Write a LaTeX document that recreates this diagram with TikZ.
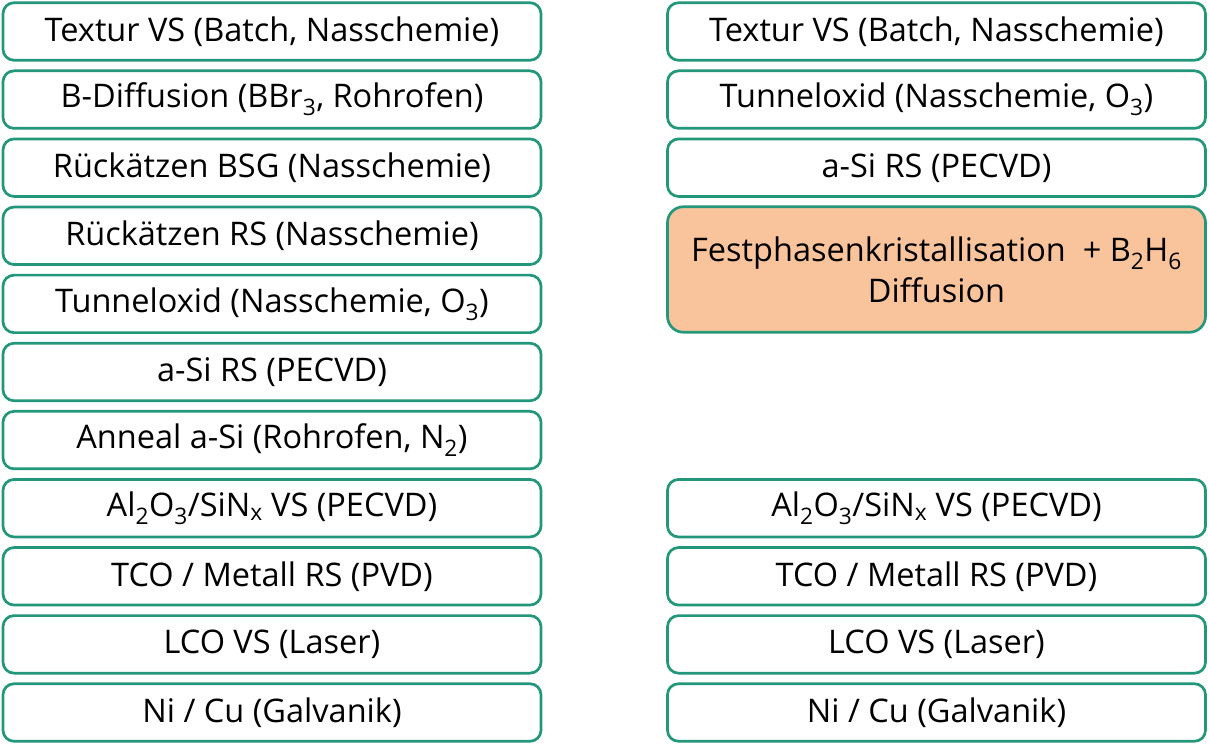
\documentclass[tikz,border=0pt]{standalone}
\usepackage{fontspec}
\setmainfont{Open Sans}
\definecolor{fhgreen}{HTML}{23977A}
\definecolor{peach}{HTML}{F9C49C}
\begin{document}
\begin{tikzpicture}[x=1pt,y=1pt,
  stepbox/.style={draw=fhgreen,line width=2.7pt,rounded corners=11pt,fill=white,
    minimum width=538pt,minimum height=57.5pt,inner sep=0pt,align=center,
    font=\fontsize{32.5}{41}\selectfont},
  bigbox/.style={stepbox,fill=peach,minimum height=125.5pt,rounded corners=16pt}]
\useasboundingbox (0,0) rectangle (1209,752);
\def\lx{272}
\def\rx{936.5}
\newcommand{\rowy}[1]{752-31.5-68.1*#1}
\node[stepbox] (l0) at (\lx,{\rowy{0}}) {Textur VS (Batch, Nasschemie)};
\node[stepbox] (l1) at (\lx,{\rowy{1}}) {B-Diffusion (BBr\textsubscript{3}, Rohrofen)};
\node[stepbox] (l2) at (\lx,{\rowy{2}}) {Rückätzen BSG (Nasschemie)};
\node[stepbox] (l3) at (\lx,{\rowy{3}}) {Rückätzen RS (Nasschemie)};
\node[stepbox] (l4) at (\lx,{\rowy{4}}) {Tunneloxid (Nasschemie, O\textsubscript{3})};
\node[stepbox] (l5) at (\lx,{\rowy{5}}) {a-Si RS (PECVD)};
\node[stepbox] (l6) at (\lx,{\rowy{6}}) {Anneal a-Si (Rohrofen, N\textsubscript{2})};
\node[stepbox] (l7) at (\lx,{\rowy{7}}) {Al\textsubscript{2}O\textsubscript{3}/SiN\textsubscript{x} VS (PECVD)};
\node[stepbox] (l8) at (\lx,{\rowy{8}}) {TCO / Metall RS (PVD)};
\node[stepbox] (l9) at (\lx,{\rowy{9}}) {LCO VS (Laser)};
\node[stepbox] (l10) at (\lx,{\rowy{10}}) {Ni / Cu (Galvanik)};
\node[stepbox] (r0) at (\rx,{\rowy{0}}) {Textur VS (Batch, Nasschemie)};
\node[stepbox] (r1) at (\rx,{\rowy{1}}) {Tunneloxid (Nasschemie, O\textsubscript{3})};
\node[stepbox] (r2) at (\rx,{\rowy{2}}) {a-Si RS (PECVD)};
\node[bigbox] (r3) at (\rx,{752-269.5}) {Festphasenkristallisation\ \ + B\textsubscript{2}H\textsubscript{6}\\Diffusion};
\node[stepbox] (r7) at (\rx,{\rowy{7}}) {Al\textsubscript{2}O\textsubscript{3}/SiN\textsubscript{x} VS (PECVD)};
\node[stepbox] (r8) at (\rx,{\rowy{8}}) {TCO / Metall RS (PVD)};
\node[stepbox] (r9) at (\rx,{\rowy{9}}) {LCO VS (Laser)};
\node[stepbox] (r10) at (\rx,{\rowy{10}}) {Ni / Cu (Galvanik)};
\end{tikzpicture}
\end{document}
